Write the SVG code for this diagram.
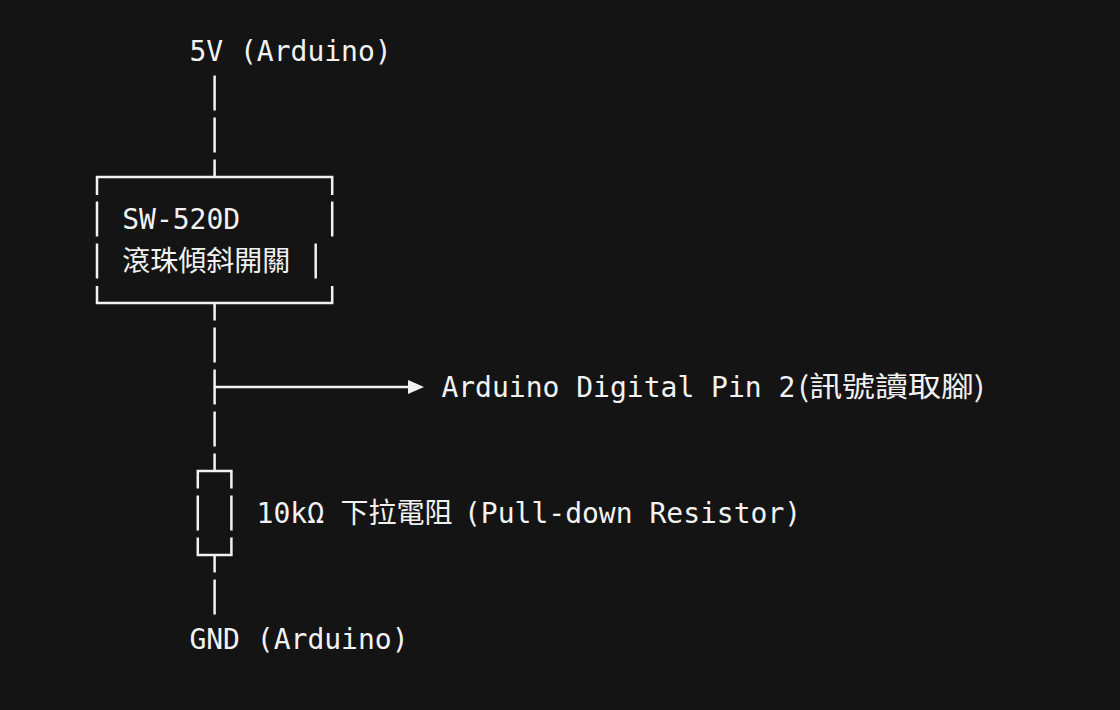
<svg xmlns="http://www.w3.org/2000/svg" width="1120" height="710" viewBox="0 0 1120 710">
<style>
.t{font-family:"DejaVu Sans Mono","Noto Sans CJK TC",monospace;font-size:28px;fill:#f2f2f2}
.c{font-family:"Noto Sans CJK TC","Noto Sans CJK SC",sans-serif;font-size:28px;fill:#f2f2f2}
.l{stroke:#f2f2f2;stroke-width:2.5;fill:none}
</style>
<rect width="1120" height="710" fill="#141414"/>
<g id="vcc"><text class="t" x="189.4" y="61">5V (Arduino)</text></g>
<g id="switch">
<path class="l" d="M97 195V177H332.2V195M97 201.5V236.5M332.2 201.5V236.5M97 243.5V278.5M315.7 243.5V278.5M97 286V303H332.2V286"/>
<text class="t" x="122.2" y="229">SW-520D</text>
<text class="c" x="122.2" y="271">滾珠傾斜開關</text>
</g>
<g id="pin">
<text class="t" x="441.4" y="397">Arduino Digital Pin 2</text>
<text class="c" x="798" y="397" textLength="187" lengthAdjust="spacingAndGlyphs">(訊號讀取腳)</text>
</g>
<g id="resistor">
<path class="l" d="M197.8 488.5V471H231.4V488.5M197.8 495.5V530.5M231.4 495.5V530.5M197.8 537.5V555H231.4V537.5"/>
<text class="t" x="256.6" y="523">10kΩ</text>
<text class="c" x="340.6" y="523">下拉電阻</text>
<text class="t" x="464" y="523">(Pull-down Resistor)</text>
</g>
<g id="gnd"><text class="t" x="189.4" y="649">GND (Arduino)</text></g>
<g id="connectors">
<path class="l" d="M214.6 75.5V110.5M214.6 117.5V152.5M214.6 159.5V177M214.6 303V320.5M214.6 327.5V362.5M214.6 369.5V404.5M214.6 387H410M214.6 411.5V446.5M214.6 453.5V471M214.6 555V572.5M214.6 579.5V614.5"/>
<polygon points="408,380 424,387 408,394" fill="#f2f2f2"/>
</g>
</svg>
